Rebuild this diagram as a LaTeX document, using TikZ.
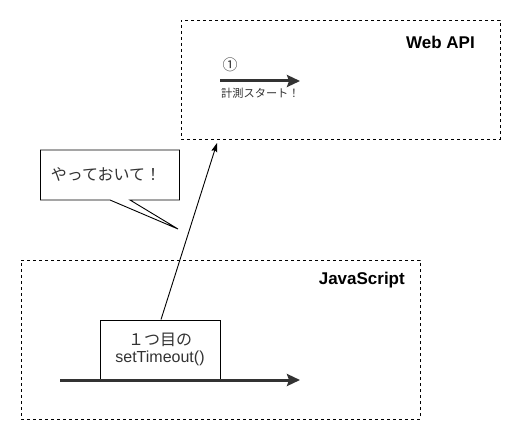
\documentclass[tikz,border=0pt]{standalone}
\usepackage{fontspec}
\setmainfont{Liberation Sans}
\newfontfamily\jp{Noto Sans CJK JP}
\usetikzlibrary{arrows.meta}
\definecolor{dk}{HTML}{333333}
\tikzset{
  region/.style={draw=black, dash pattern=on 3pt off 3pt, line width=0.9pt, rectangle, inner sep=0pt},
  title/.style={font=\fontsize{17}{19}\selectfont\bfseries, inner sep=0pt, anchor=east},
  timeline/.style={draw=dk, line width=3pt, -{Stealth[length=13pt,width=12pt,inset=2pt]}},
  plainbox/.style={draw=black, line width=0.9pt, rectangle, fill=white, inner sep=0pt},
  call/.style={draw=black, line width=0.9pt, -{Stealth[length=9pt,width=6pt,inset=1.5pt]}},
}
\begin{document}
\begin{tikzpicture}[x=1pt,y=-1pt]
\useasboundingbox (0,0) rectangle (521,441);
% Web API region
\node[region, minimum width=319pt, minimum height=119pt] (web) at (340.5,79.5) {};
\node[title] (webt) at (475,42) {Web API};
\coordinate (w1) at (220,81);
\coordinate (w2) at (300,81);
\draw[timeline] (w1) -- (w2);
\node[inner sep=0pt, font=\jp\fontsize{15}{15}\selectfont, text=dk] (one) at (230,65) {①};
\node[inner sep=0pt, anchor=west, font=\jp\fontsize{11.2}{12}\selectfont, text=dk] (start) at (221,93) {計測スタート！};
% JavaScript region
\node[region, minimum width=399pt, minimum height=159pt] (js) at (220.5,339.5) {};
\node[title] (jst) at (405,280) {JavaScript};
\coordinate (j1) at (60,380);
\coordinate (j2) at (300,380);
\node[plainbox, minimum width=120pt, minimum height=59pt, align=center,
      font=\fontsize{16}{17}\selectfont, text=dk] (to) at (160,349.5)
      {{\jp １つ目の}\\setTimeout()};
\draw[timeline] (j1) -- (j2);
% call arrow
\coordinate (tip) at (217,143);
\draw[call] (to.north) ++(1,0) coordinate (tos) (tos) -- (tip);
% callout
\coordinate (ct) at (178,229);
\draw[line width=0.9pt, fill=white] (40.5,150) -- (179.5,150) -- (179.5,200) -- (130,200) -- (ct) -- (110,200) -- (40.5,200) -- cycle;
\node[inner sep=0pt, font=\jp\fontsize{16}{16}\selectfont, text=dk] (say) at (106,174) {やっておいて！};
\end{tikzpicture}
\end{document}
